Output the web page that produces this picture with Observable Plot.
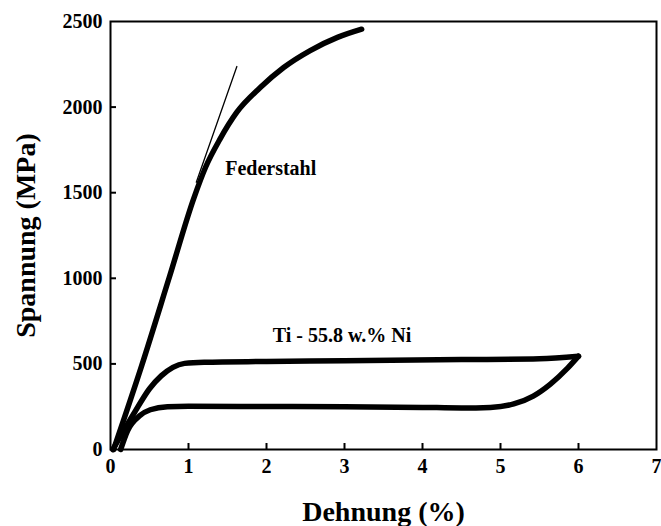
<!DOCTYPE html>
<html>
<head>
<meta charset="utf-8">
<script src="https://cdn.jsdelivr.net/npm/d3@7"></script>
<script src="https://cdn.jsdelivr.net/npm/@observablehq/plot@0.6"></script>
<style>
  html, body { margin: 0; padding: 0; background: #fff; }
  #chart { width: 661px; height: 526px; }
</style>
</head>
<body>
<div id="chart"></div>
<script>
// Federstahl (spring steel) curve
const fedStrain = [0.04, 0.4, 0.75, 1.07, 1.22, 1.4, 1.62, 1.92, 2.22, 2.56, 2.91, 3.22];
const fedStress = [0, 490, 1000, 1470, 1650, 1810, 1970, 2114, 2231, 2330, 2407, 2455];
// tangent (elastic line)
const tanStrain = [1.1, 1.62];
const tanStress = [1561, 2237];
// Ti - 55.8 w.% Ni loading branch
const tiLoadStrain = [0.03, 0.30, 0.50, 0.65, 0.80, 0.95, 1.2, 2, 3, 4.5, 5.5, 6.0];
const tiLoadStress = [0, 210, 355, 430, 480, 503, 510, 514, 518, 525, 530, 545];
// unloading branch (listed from the origin end up to the tip)
const tiUnloadStrain = [0.13, 0.22, 0.38, 0.51, 0.73, 1, 2, 3, 4, 4.5, 4.87, 5.17, 5.42, 5.64, 5.86, 6.0];
const tiUnloadStress = [0, 111, 199, 232, 250, 252, 251, 250, 246, 243, 246, 266, 312, 382, 475, 545];

const xTicks = [0, 1, 2, 3, 4, 5, 6, 7];
const yTicks = [0, 500, 1000, 1500, 2000, 2500];
const xInnerTicks = [1, 2, 3, 4, 5, 6];
const yInnerTicks = [500, 1000, 1500, 2000];
const xTitle = "Dehnung (%)";
const yTitle = "Spannung (MPa)";
const labels = [
  {x: 1.47, y: 1640, text: "Federstahl"},
  {x: 2.08, y: 666, text: "Ti - 55.8 w.% Ni"}
];

const toPts = (xs, ys) => xs.map((x, i) => ({x, y: ys[i]}));
const fed = toPts(fedStrain, fedStress);
const tan = toPts(tanStrain, tanStress);
const tiLoad = toPts(tiLoadStrain, tiLoadStress);
const tiUnload = toPts(tiUnloadStrain, tiUnloadStress);

const W = 661, H = 526;
const chart = Plot.plot({
  width: W,
  height: H,
  marginLeft: 110,
  marginRight: 5,
  marginTop: 21,
  marginBottom: 77,
  style: {fontFamily: "'Liberation Serif', 'Times New Roman', serif", fontWeight: "bold", fontSize: "20px", color: "black", background: "white", overflow: "visible"},
  x: {domain: [0, 7]},
  y: {domain: [0, 2500]},
  marks: [
    Plot.axisX({ticks: xTicks, tickFormat: d => String(d), tickSize: 0, tickPadding: 9, label: null, fontSize: 20}),
    Plot.axisY({ticks: yTicks, tickFormat: d => String(d), tickSize: 0, tickPadding: 8, label: null, fontSize: 20}),
    Plot.tickX(xInnerTicks, {x: d => d, insetTop: 422, stroke: "black", strokeWidth: 2}),
    Plot.tickY(yInnerTicks, {y: d => d, insetRight: 540, stroke: "black", strokeWidth: 2}),
    Plot.line(fed, {x: "x", y: "y", curve: "monotone-x", stroke: "black", strokeWidth: 5.5}),
    Plot.line(tan, {x: "x", y: "y", stroke: "black", strokeWidth: 1.3}),
    Plot.line(tiLoad, {x: "x", y: "y", curve: "monotone-x", stroke: "black", strokeWidth: 5.5}),
    Plot.line(tiUnload, {x: "x", y: "y", curve: "monotone-x", stroke: "black", strokeWidth: 5.5}),
    Plot.text(labels, {x: "x", y: "y", text: "text", textAnchor: "start", lineAnchor: "middle", fontSize: 20, fontWeight: "bold", fill: "black"}),
    Plot.text([xTitle], {frameAnchor: "bottom", dy: 63, textAnchor: "middle", lineAnchor: "middle", fontSize: 28, fontWeight: "bold", fill: "black"}),
    Plot.text([yTitle], {frameAnchor: "left", dx: -84, rotate: -90, textAnchor: "middle", lineAnchor: "middle", fontSize: 28, fontWeight: "bold", fill: "black"}),
    Plot.frame({stroke: "black", strokeWidth: 2})
  ]
});
document.getElementById("chart").append(chart);
</script>
</body>
</html>
